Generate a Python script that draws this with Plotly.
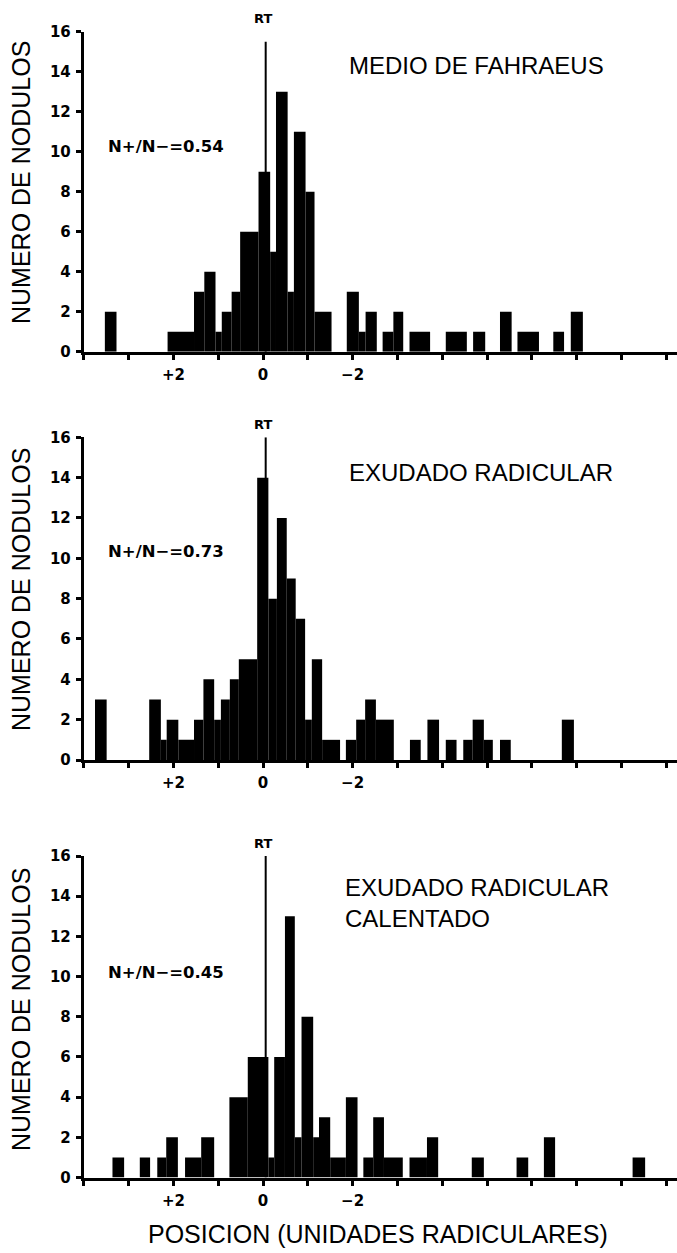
import plotly.graph_objects as go

W, H = 677, 1253

# ---------------- data (posición en unidades radiculares; + hacia la izquierda) -------------
titulos = ["MEDIO DE FAHRAEUS", "EXUDADO RADICULAR", "EXUDADO RADICULAR<br>CALENTADO"]
razones = ["N+/N−=0.54", "N+/N−=0.73", "N+/N−=0.45"]

p1_desde = [3.53, 2.13, 1.54, 1.31, 1.06, 0.92, 0.70, 0.51, 0.10, -0.16, -0.29, -0.55, -0.69,
            -0.95, -1.15, -1.87, -2.14, -2.29, -2.67, -2.91, -3.27, -4.08, -4.69, -5.29, -5.68,
            -6.48, -6.87]
p1_hasta = [3.27, 1.54, 1.31, 1.06, 0.92, 0.70, 0.51, 0.10, -0.16, -0.29, -0.55, -0.69, -0.95,
            -1.15, -1.53, -2.14, -2.29, -2.54, -2.91, -3.13, -3.73, -4.55, -4.96, -5.55, -6.16,
            -6.72, -7.14]
p1_n = [2, 1, 3, 4, 1, 2, 3, 6, 9, 5, 13, 3, 11, 8, 2, 3, 1, 2, 1, 2, 1, 1, 1, 2, 1, 1, 2]

p2_desde = [3.75, 2.54, 2.28, 2.15, 1.89, 1.54, 1.33, 1.09, 0.94, 0.74, 0.54, 0.13, -0.12, -0.31,
            -0.53, -0.73, -0.94, -1.09, -1.32, -1.85, -2.08, -2.28, -2.52, -3.28, -3.67, -4.08,
            -4.47, -4.68, -4.93, -5.29, -6.67]
p2_hasta = [3.49, 2.28, 2.15, 1.89, 1.54, 1.33, 1.09, 0.94, 0.74, 0.54, 0.13, -0.12, -0.31, -0.53,
            -0.73, -0.94, -1.09, -1.32, -1.72, -2.08, -2.28, -2.52, -2.92, -3.52, -3.93, -4.32,
            -4.68, -4.93, -5.13, -5.53, -6.94]
p2_n = [3, 3, 1, 2, 1, 2, 4, 2, 3, 4, 5, 14, 8, 12, 9, 7, 2, 5, 1, 1, 2, 3, 2, 1, 2, 1, 1, 2, 1, 1, 2]

p3_desde = [3.36, 2.75, 2.36, 2.16, 1.74, 1.38, 0.75, 0.34, -0.12, -0.25, -0.49, -0.71, -0.86,
            -1.12, -1.25, -1.50, -1.85, -2.24, -2.46, -2.70, -3.27, -3.66, -4.66, -5.66, -6.27,
            -8.25]
p3_hasta = [3.10, 2.52, 2.16, 1.90, 1.38, 1.09, 0.34, -0.12, -0.25, -0.49, -0.71, -0.86, -1.12,
            -1.25, -1.50, -1.85, -2.11, -2.46, -2.70, -3.12, -3.66, -3.91, -4.93, -5.92, -6.52,
            -8.53]
p3_n = [1, 1, 1, 2, 1, 2, 4, 6, 1, 6, 13, 2, 8, 2, 3, 1, 4, 1, 3, 1, 1, 2, 1, 1, 2, 1]

x_ticks = list(range(4, -10, -1))
x_ticklabels = {2: "+2", 0: "0", -2: "−2"}
y_ticks = list(range(0, 17, 2))
rt_pos = -0.06
rt_top = [15.5, 16, 16]

paneles = [(p1_desde, p1_hasta, p1_n), (p2_desde, p2_hasta, p2_n), (p3_desde, p3_hasta, p3_n)]

# ---------------- layout geometry (px) -------------
panel_px = [(31.7, 351.7), (437.3, 760.0), (856.0, 1177.5)]  # (top y=16, bottom y=0)
x_left_px = 83.8
unit_px = 44.8
x_right_val = 4 - (W - x_left_px) / unit_px

BOLD = "DejaVu Sans"
TXT = "Liberation Sans"


def px(x):
    return x / W


def py(y):
    return 1 - y / H


fig = go.Figure()
layout = dict(
    width=W, height=H, margin=dict(l=0, r=0, t=0, b=0),
    paper_bgcolor="white", plot_bgcolor="white", showlegend=False,
    barmode="overlay", annotations=[], shapes=[],
)

for i, (desde, hasta, n) in enumerate(paneles):
    k = "" if i == 0 else str(i + 1)
    centros = [(a + b) / 2 for a, b in zip(desde, hasta)]
    anchos = [abs(a - b) for a, b in zip(desde, hasta)]
    fig.add_trace(go.Bar(
        x=centros, y=n, width=anchos, xaxis="x" + k, yaxis="y" + k,
        marker=dict(color="black", line=dict(width=0)), hoverinfo="x+y",
    ))
    top, bot = panel_px[i]
    layout["xaxis" + k] = dict(
        domain=[px(x_left_px), 1], range=[4, x_right_val], anchor="y" + k,
        showgrid=False, zeroline=False, showline=True, linewidth=3, linecolor="black",
        ticks="outside", ticklen=5, tickwidth=2.5, tickcolor="black",
        tickvals=x_ticks, ticktext=[x_ticklabels.get(v, "") for v in x_ticks],
        tickfont=dict(family=BOLD, size=15, color="black", weight="bold"), ticklabelstandoff=2,
        automargin=False, fixedrange=True,
    )
    layout["yaxis" + k] = dict(
        domain=[py(bot), py(top)], range=[0, 16], anchor="x" + k,
        showgrid=False, zeroline=False, showline=True, linewidth=3, linecolor="black",
        ticks="outside", ticklen=5, tickwidth=2.5, tickcolor="black",
        tickvals=y_ticks, ticktext=[str(v) for v in y_ticks],
        tickfont=dict(family=BOLD, size=15, color="black", weight="bold"), ticklabelstandoff=2,
        automargin=False, fixedrange=True,
    )
    layout["shapes"].append(dict(
        type="line", xref="x" + k, yref="y" + k, x0=rt_pos, x1=rt_pos, y0=0, y1=rt_top[i],
        line=dict(color="black", width=2),
    ))

title_y = [65, 472.5, 902.5]
title_x = [346.7, 346.7, 343]
ratio_y = [146.7, 551.7, 972.5]
rt_y = [18, 424, 843]
ytitle_y = [183, 590, 1010]

for i in range(3):
    layout["annotations"] += [
        dict(text=titulos[i], x=px(title_x[i]), y=py(title_y[i]), xref="paper", yref="paper",
             xanchor="left", yanchor="middle", align="left", showarrow=False,
             font=dict(family=TXT, size=24, color="black")),
        dict(text=razones[i], x=px(106), y=py(ratio_y[i]), xref="paper", yref="paper",
             xanchor="left", yanchor="middle", showarrow=False,
             font=dict(family=BOLD, size=16.5, color="black", weight="bold")),
        dict(text="RT", x=px(263), y=py(rt_y[i]), xref="paper", yref="paper",
             xanchor="center", yanchor="middle", showarrow=False,
             font=dict(family=BOLD, size=13, color="black", weight="bold")),
        dict(text="NUMERO DE NODULOS", x=px(21), y=py(ytitle_y[i]), xref="paper", yref="paper",
             xanchor="center", yanchor="middle", textangle=-90, showarrow=False,
             font=dict(family=TXT, size=25, color="black")),
    ]

layout["annotations"].append(dict(
    text="POSICION (UNIDADES RADICULARES)", x=px(378), y=py(1234), xref="paper", yref="paper",
    xanchor="center", yanchor="middle", showarrow=False,
    font=dict(family=TXT, size=25, color="black")))

fig.update_layout(**layout)
fig.write_html("out.html")
